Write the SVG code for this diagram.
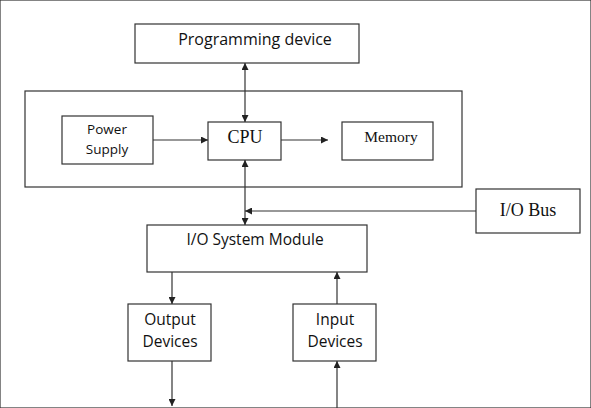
<svg xmlns="http://www.w3.org/2000/svg" width="591" height="408" viewBox="0 0 591 408">
<defs>
<marker id="ah" viewBox="0 0 10 10" refX="10" refY="5" markerWidth="7" markerHeight="7" markerUnits="userSpaceOnUse" orient="auto-start-reverse">
<path d="M0,0 L10,5 L0,10 Z" fill="#222"/>
</marker>
</defs>
<style>
rect{fill:#fff;stroke:#333;stroke-width:1.2}
.s{font-family:"Open Sans","Liberation Sans",sans-serif;fill:#111;text-anchor:middle}
.r{font-family:"Liberation Serif",serif;fill:#111;text-anchor:middle}
.c line{stroke:#333;stroke-width:1.2}
</style>
<rect width="591" height="408" fill="#fff" stroke="none"/>
<g id="system"><rect x="25" y="91" width="437" height="96"/></g>
<g id="programming"><rect x="135" y="24" width="224" height="39"/><text class="s" x="255" y="45" font-size="16">Programming device</text></g>
<g id="power"><rect x="62" y="116" width="91" height="48"/><text class="s" x="107" y="134" font-size="13.5">Power</text><text class="s" x="107" y="154" font-size="13.5">Supply</text></g>
<g id="cpu"><rect x="208" y="122" width="73" height="38"/><text class="r" x="245" y="143" font-size="18">CPU</text></g>
<g id="memory"><rect x="342" y="122" width="91" height="38"/><text class="r" x="391" y="142" font-size="15.5">Memory</text></g>
<g id="iobus"><rect x="476" y="189" width="104" height="44"/><text class="r" x="528" y="216" font-size="18">I/O Bus</text></g>
<g id="iomodule"><rect x="147" y="225" width="220" height="47"/><text class="s" x="255" y="245" font-size="15.5">I/O System Module</text></g>
<g id="output"><rect x="128" y="304" width="83" height="57"/><text class="s" x="170" y="325" font-size="15.5">Output</text><text class="s" x="170" y="347" font-size="15.5">Devices</text></g>
<g id="input"><rect x="293" y="304" width="83" height="57"/><text class="s" x="335" y="325" font-size="15.5">Input</text><text class="s" x="335" y="347" font-size="15.5">Devices</text></g>
<g class="c" id="connectors">
<line x1="245" y1="63" x2="245" y2="122" marker-start="url(#ah)" marker-end="url(#ah)"/>
<line x1="153" y1="140" x2="208" y2="140" marker-end="url(#ah)"/>
<line x1="281" y1="140" x2="328" y2="140" marker-end="url(#ah)"/>
<line x1="245" y1="160" x2="245" y2="225" marker-start="url(#ah)" marker-end="url(#ah)"/>
<line x1="476" y1="211" x2="245" y2="211" marker-end="url(#ah)"/>
<line x1="172" y1="272" x2="172" y2="304" marker-end="url(#ah)"/>
<line x1="172" y1="361" x2="172" y2="406" marker-end="url(#ah)"/>
<line x1="337" y1="304" x2="337" y2="272" marker-end="url(#ah)"/>
<line x1="337" y1="408" x2="337" y2="361" marker-end="url(#ah)"/>
</g>
</svg>
